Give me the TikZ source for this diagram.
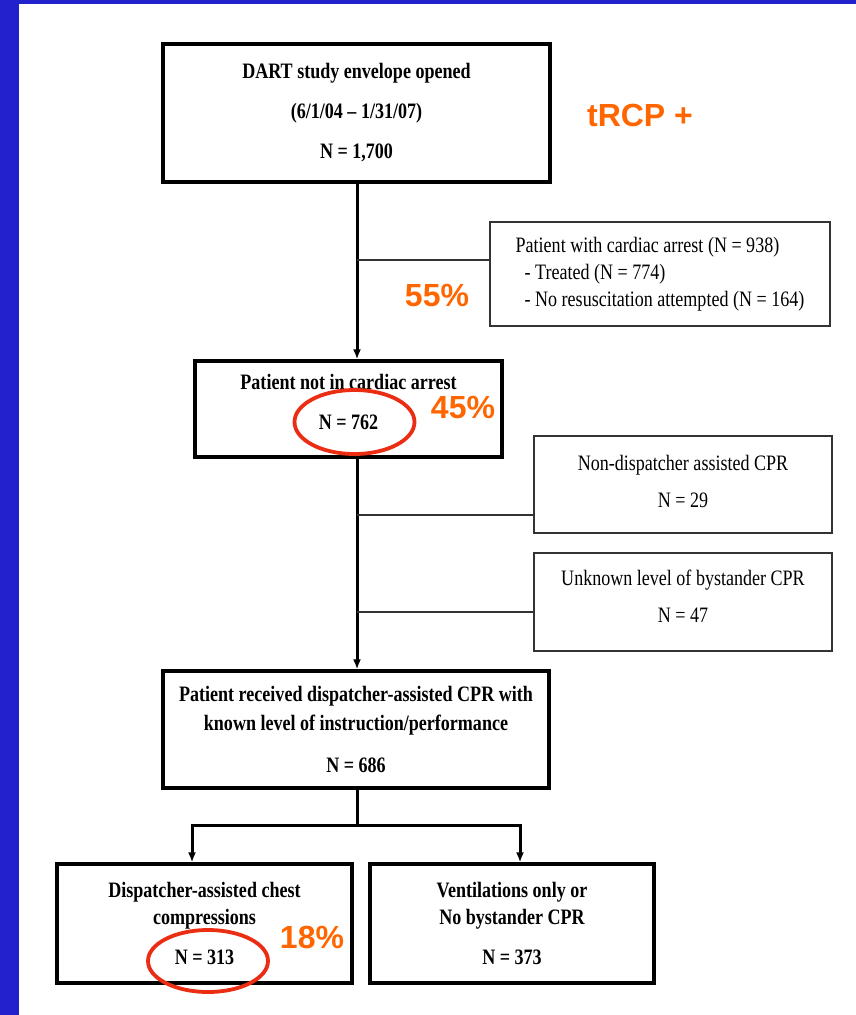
\documentclass[tikz,border=0pt]{standalone}
\usepackage{fontspec}
\setmainfont{Liberation Serif}[FakeStretch=0.82]
\newfontfamily\pctfont{Liberation Sans}
\usetikzlibrary{arrows.meta}
\definecolor{slideblue}{RGB}{34,34,204}
\definecolor{pctorange}{RGB}{255,102,0}
\definecolor{ringred}{RGB}{235,45,20}
\begin{document}
\begin{tikzpicture}[x=1pt,y=-1pt,
  thickbox/.style={draw=black, line width=3.3pt, inner sep=0pt, align=center,
    font=\bfseries\fontsize{22}{27}\selectfont},
  thinbox/.style={draw=black!80, line width=1.5pt, inner sep=0pt, align=center,
    font=\fontsize{22}{27}\selectfont},
  flow/.style={line width=3pt, -{Latex[length=10pt,width=8pt]}},
  flowline/.style={line width=3pt},
  branch/.style={line width=1.3pt, draw=black!80},
  pct/.style={text=pctorange, font=\pctfont\bfseries\fontsize{32}{32}\selectfont, inner sep=0pt},
  ring/.style={draw=ringred, line width=3.8pt}
]
\useasboundingbox (0,0) rectangle (856,1015);
\fill[white] (0,0) rectangle (856,1015);
\fill[slideblue] (0,0) rectangle (19,1015);
\fill[slideblue] (0,0) rectangle (856,4);

% boxes
\node[thickbox, minimum width=387pt, minimum height=138pt] (env) at (356.5,113)
  {DART study envelope opened\\[13pt](6/1/04 -- 1/31/07)\\[13pt]N = 1,700};
\node[thinbox, minimum width=340pt, minimum height=104pt] (arrest) at (660,274)
  {\begin{tabular}{@{}l@{}}Patient with cardiac arrest (N = 938)\\
   \hspace{9pt}- Treated (N = 774)\\
   \hspace{9pt}- No resuscitation attempted (N = 164)\end{tabular}};
\node[thickbox, minimum width=307pt, minimum height=96pt, text depth=14pt] (notarrest) at (348.5,409)
  {Patient not in cardiac arrest\\[13pt]N = 762};
\node[thinbox, minimum width=298pt, minimum height=97pt, text depth=6pt] (nondisp) at (683,484.5)
  {Non-dispatcher assisted CPR\\[10pt]N = 29};
\node[thinbox, minimum width=298pt, minimum height=98pt, text depth=12pt] (unknown) at (683,602)
  {Unknown level of bystander CPR\\[10pt]N = 47};
\node[thickbox, minimum width=386pt, minimum height=117pt] (received) at (356,729.5)
  {Patient received dispatcher-assisted CPR with\\[2pt]known level of instruction/performance\\[15pt]N = 686};
\node[thickbox, minimum width=295pt, minimum height=119pt] (chest) at (204.5,923.5)
  {Dispatcher-assisted chest\\compressions\\[13pt]N = 313};
\node[thickbox, minimum width=284pt, minimum height=119pt] (vent) at (512,923.5)
  {Ventilations only or\\No bystander CPR\\[13pt]N = 373};

% connectors
\coordinate (b1) at (357,260);
\coordinate (b2) at (357,515);
\coordinate (b3) at (357,612);
\coordinate (split) at (357,825);
\coordinate (splitL) at (192,825);
\coordinate (splitR) at (520,825);

\draw[flow] (env.south -| b1) -- (notarrest.north -| b1);
\draw[branch] (b1) -- (arrest.west |- b1);
\draw[flow] (notarrest.south -| b2) -- (received.north -| b2);
\draw[branch] (b2) -- (nondisp.west |- b2);
\draw[branch] (b3) -- (unknown.west |- b3);
\draw[flowline] (received.south -| split) -- (split);
\draw[flowline, line cap=rect] (splitL) -- (splitR);
\draw[flow] (splitL) -- (chest.north -| splitL);
\draw[flow] (splitR) -- (vent.north -| splitR);

% annotations
\node[pct] (trcp) at (640,115) {tRCP +};
\node[pct] (p55) at (437,296) {55\%};
\node[pct] (p45) at (463,408) {45\%};
\node[pct] (p18) at (312,937) {18\%};
\draw[ring] (354.5,422) ellipse [x radius=60pt, y radius=32pt];
\draw[ring] (208,961) ellipse [x radius=60pt, y radius=31pt];
\end{tikzpicture}
\end{document}
